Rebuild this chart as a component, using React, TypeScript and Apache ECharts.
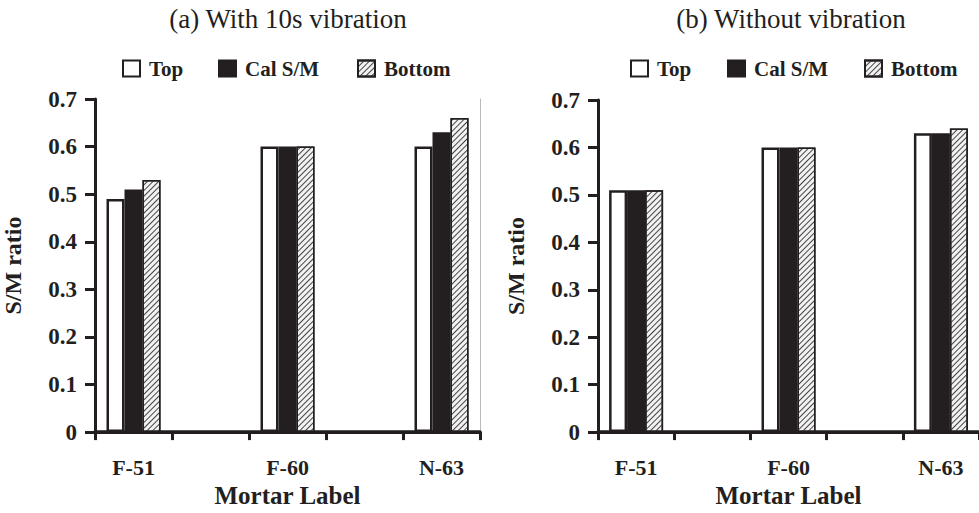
import React, { useEffect, useRef } from "react";
import * as echarts from "echarts";

const categories = ["F-51", "F-60", "N-63"];
const seriesNames = ["Top", "Cal S/M", "Bottom"];
const titles = ["(a) With 10s vibration", "(b) Without vibration"];
// Panel (a): with 10s vibration
const topA = [0.49, 0.6, 0.6];
const calA = [0.51, 0.6, 0.63];
const bottomA = [0.53, 0.6, 0.66];
// Panel (b): without vibration
const topB = [0.51, 0.6, 0.63];
const calB = [0.51, 0.6, 0.63];
const bottomB = [0.51, 0.6, 0.64];
const yTicks = [0, 0.1, 0.2, 0.3, 0.4, 0.5, 0.6, 0.7];

const SERIF = "'Liberation Serif', 'Times New Roman', serif";

// axis has empty slots between the labelled categories
const slotCats: string[] = [];
categories.forEach((c, i) => {
  if (i > 0) slotCats.push("");
  slotCats.push(c);
});
const toSlots = (vals: number[]) => {
  const out: (number | null)[] = [];
  vals.forEach((v, i) => {
    if (i > 0) out.push(null);
    out.push(v);
  });
  return out;
};

const hatch = {
  symbol: "rect",
  symbolSize: 1,
  color: "#444",
  backgroundColor: "#f2f2f2",
  dashArrayX: [1, 0],
  dashArrayY: [1, 2.2],
  rotation: -Math.PI / 4,
};

const styles = [
  { color: "#ffffff", borderColor: "#231f20", borderWidth: 2.5 },
  { color: "#231f20", borderColor: "#231f20", borderWidth: 1.5 },
  { color: "#f2f2f2", borderColor: "#231f20", borderWidth: 1.5, decal: hatch },
];

export default function App() {
  const ref = useRef<HTMLDivElement>(null);
  useEffect(() => {
    if (!ref.current) return;
    const chart = echarts.init(ref.current, undefined, { renderer: "svg" });
    const panels = [
      { left: 93, top: 99, height: 340, vals: [topA, calA, bottomA], cx: 288, lx: [122, 218, 357] },
      { left: 598, top: 100, height: 341, vals: [topB, calB, bottomB], cx: 791, lx: [630, 727, 864] },
    ];
    const axisColor = "#231f20";
    const grids: any[] = [];
    const xAxes: any[] = [];
    const yAxes: any[] = [];
    const series: any[] = [];
    const legends: any[] = [];
    const titleArr: any[] = [];
    panels.forEach((p, pi) => {
      grids.push({ left: p.left, top: p.top, width: 387, height: p.height });
      titleArr.push({
        text: titles[pi],
        left: p.cx,
        top: 5,
        padding: 0,
        textAlign: "center",
        textStyle: { fontFamily: SERIF, fontSize: 27, fontWeight: "normal", color: "#231f20" },
      });
      seriesNames.forEach((nm, si) => {
        legends.push({
          left: p.lx[si],
          top: 58,
          padding: 0,
          itemWidth: 17,
          itemHeight: 16,
          icon: "rect",
          selectedMode: false,
          data: [nm],
          textStyle: {
            fontFamily: SERIF,
            fontSize: 21,
            fontWeight: "bold",
            color: "#231f20",
            padding: [0, 0, 0, 4],
          },
        });
      });
      xAxes.push({
        type: "category",
        gridIndex: pi,
        data: slotCats,
        position: "bottom",
        name: "Mortar Label",
        nameLocation: "middle",
        nameGap: 50,
        nameTextStyle: { fontFamily: SERIF, fontSize: 25, fontWeight: "bold", color: axisColor },
        axisLine: { lineStyle: { color: axisColor, width: 3 } },
        axisTick: { show: true, length: 8, lineStyle: { color: axisColor, width: 3 } },
        axisLabel: {
          interval: 0,
          margin: 24,
          fontFamily: SERIF,
          fontSize: 22,
          fontWeight: "bold",
          color: axisColor,
        },
      });
      xAxes.push({
        type: "category",
        gridIndex: pi,
        data: slotCats,
        position: "top",
        axisLine: { lineStyle: { color: axisColor, width: 3.5 } },
        axisTick: { show: false },
        axisLabel: { show: false },
      });
      yAxes.push({
        type: "value",
        gridIndex: pi,
        min: 0,
        max: 0.7,
        interval: 0.1,
        name: "S/M ratio",
        nameLocation: "middle",
        nameGap: 70,
        nameTextStyle: { fontFamily: SERIF, fontSize: 24, fontWeight: "bold", color: axisColor },
        splitLine: { show: false },
        axisLine: { show: true, lineStyle: { color: axisColor, width: 3 } },
        axisTick: { show: true, length: 10, lineStyle: { color: axisColor, width: 3 } },
        axisLabel: {
          margin: 18,
          fontFamily: SERIF,
          fontSize: 23,
          fontWeight: "bold",
          color: axisColor,
          formatter: (v: number) => {
            const t = yTicks.find((y) => Math.abs(y - v) < 1e-6);
            if (t === undefined) return "";
            return t === 0 ? "0" : t.toFixed(1);
          },
        },
      });
      yAxes.push({
        type: "value",
        gridIndex: pi,
        min: 0,
        max: 0.7,
        interval: 0.1,
        position: "right",
        splitLine: { show: false },
        axisLine: { show: true, lineStyle: { color: "#bbbbbb", width: 1 } },
        axisTick: { show: false },
        axisLabel: { show: false },
      });
      p.vals.forEach((vals, si) => {
        series.push({
          type: "bar",
          name: seriesNames[si],
          xAxisIndex: pi * 2,
          yAxisIndex: pi * 2,
          data: toSlots(vals),
          barWidth: 18,
          barGap: "0%",
          itemStyle: styles[si],
        });
      });
    });
    chart.setOption({
      animation: false,
      aria: { enabled: false, decal: { show: false } },
      title: titleArr,
      legend: legends,
      grid: grids,
      xAxis: xAxes,
      yAxis: yAxes,
      series,
    });
    return () => chart.dispose();
  }, []);
  return (
    <div
      ref={ref}
      style={{ position: "fixed", left: 0, top: 0, width: 979, height: 513, background: "#fff" }}
    />
  );
}
